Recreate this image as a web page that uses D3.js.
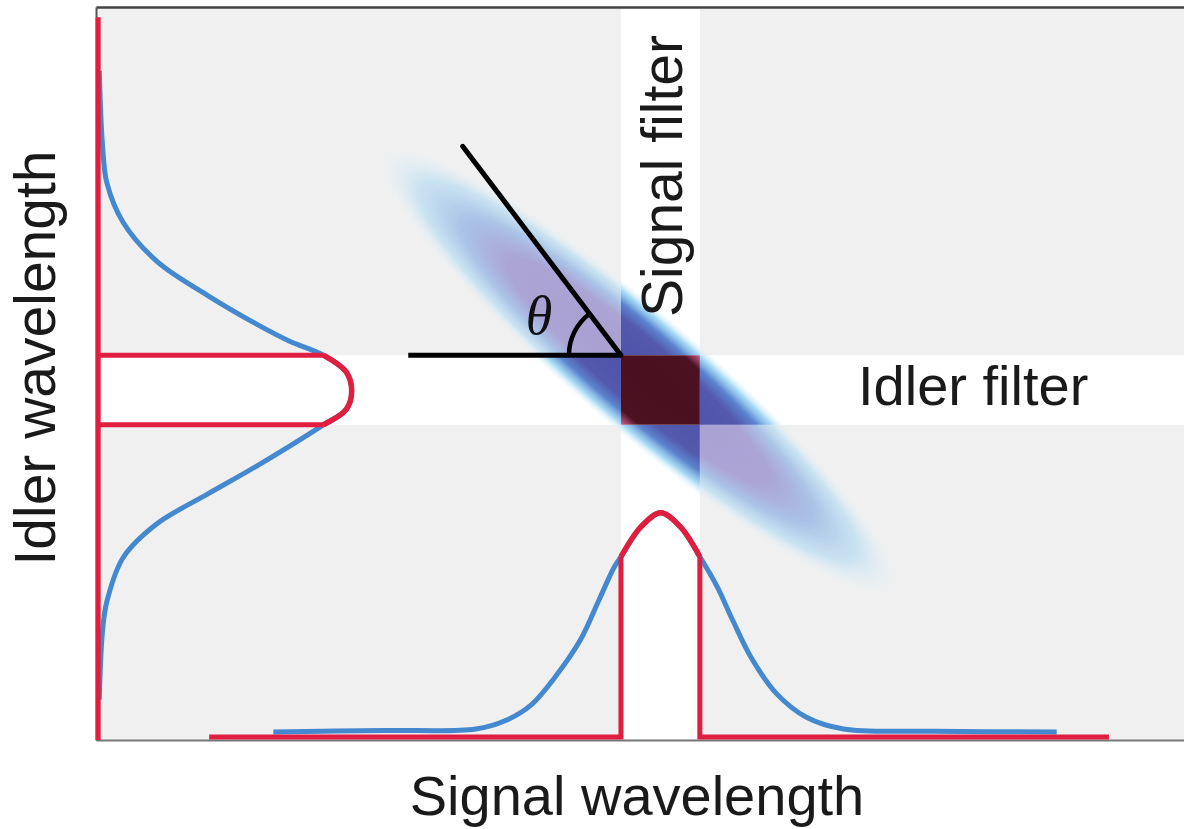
<!DOCTYPE html>
<html>
<head>
<meta charset="utf-8">
<script src="https://cdn.jsdelivr.net/npm/d3@7"></script>
<style>
    body { margin: 0; background: #fff; }
    svg { display: block; font-family: "Liberation Sans", Arial, sans-serif; }
</style>
</head>
<body>
<svg id="chart" width="1184" height="829"></svg>
<script>
// wavelength units 0..100 on both axes
const signalFilter = [48.25, 55.5];
const idlerFilter = [43.0, 52.5];

// signal marginal spectrum (bottom)
const signalWl = [16.3, 26.5, 34.9, 37.7, 40.0, 42.2, 44.5, 46.2, 47.6, 48.25, 50.1, 51.9, 53.7, 55.5, 57.1, 58.5, 60.2, 62.5, 65.3, 68.7, 77.0, 88.3];
const signalAmp = [1.1, 1.3, 1.5, 2.7, 4.8, 8.6, 13.6, 19.0, 23.5, 25.0, 29.1, 31.0, 29.1, 25.0, 20.9, 16.4, 11.3, 6.4, 3.1, 1.5, 1.2, 1.1];
const signalBase = [10.4, 93.1, 0.4];

// idler marginal spectrum (left)
const idlerWl = [91.3, 81.1, 76.0, 70.6, 65.3, 60.7, 56.7, 54.4, 52.5, 50.2, 47.6, 45.1, 43.0, 37.4, 33.5, 29.5, 24.9, 18.9, 14.9, 5.5];
const idlerAmp = [0.3, 0.6, 1.0, 2.5, 5.6, 10.2, 14.8, 17.8, 20.9, 23.0, 23.5, 23.0, 20.9, 14.8, 10.2, 5.6, 2.5, 1.0, 0.6, 0.3];
const idlerBase = [0.2, 0, 98.6];

// joint spectrum ellipse: two tips (signal, idler)
const jsaTips = [[26.3, 80.3], [73.4, 20.5]];

// angle marker
const thetaVertex = [signalFilter[0], idlerFilter[1]];
const thetaRayEnd = [33.7, 81.0];
const thetaBaseEnd = 28.7;

const W = 1184, H = 829;
const mL = 96, mR = 1184, mT = 7, mB = 740;
const red = '#e01e3f', blue = '#4488cf';

const svg = d3.select('#chart');
const x = d3.scaleLinear().domain([0, 100]).range([mL, mR]);
const y = d3.scaleLinear().domain([0, 100]).range([mB, mT]);

const defs = svg.append('defs');

// gradients for the ellipse
function addGradient(id, stops) {
    const g = defs.append('radialGradient').attr('id', id);
    stops.forEach(s => g.append('stop')
        .attr('offset', s[0]).attr('stop-color', s[1]).attr('stop-opacity', s[2]));
}
addGradient('gBase', [[0, '#aa9fd1', 1], [0.5, '#aba4d5', 1], [0.68, '#a6c0e6', 0.95], [0.85, '#b6dcf2', 0.65], [1, '#e6f4fa', 0]]);
addGradient('gBand', [[0, '#4e52a9', 1], [0.52, '#5459ad', 1], [0.7, '#5b84cf', 1], [0.86, '#8ccff2', 0.75], [1, '#d8f0fa', 0]]);
addGradient('gBoth', [[0, '#4a1020', 1], [0.68, '#4c1222', 1], [0.85, '#a8306a', 0.8], [1, '#f4b0d0', 0]]);

const sx0 = x(signalFilter[0]), sx1 = x(signalFilter[1]);
const iy0 = y(idlerFilter[1]), iy1 = y(idlerFilter[0]);

// masks: outside both filters, exactly one filter, both filters
const mOut = defs.append('mask').attr('id', 'mOut');
mOut.append('rect').attr('x', 0).attr('y', 0).attr('width', W).attr('height', H).attr('fill', '#fff');
mOut.append('rect').attr('x', sx0).attr('y', 0).attr('width', sx1 - sx0).attr('height', H).attr('fill', '#000');
mOut.append('rect').attr('x', 0).attr('y', iy0).attr('width', W).attr('height', iy1 - iy0).attr('fill', '#000');

const mOne = defs.append('mask').attr('id', 'mOne');
mOne.append('rect').attr('x', sx0).attr('y', 0).attr('width', sx1 - sx0).attr('height', H).attr('fill', '#fff');
mOne.append('rect').attr('x', 0).attr('y', iy0).attr('width', W).attr('height', iy1 - iy0).attr('fill', '#fff');
mOne.append('rect').attr('x', sx0).attr('y', iy0).attr('width', sx1 - sx0).attr('height', iy1 - iy0).attr('fill', '#000');

defs.append('clipPath').attr('id', 'cBoth')
    .append('rect').attr('x', sx0).attr('y', iy0).attr('width', sx1 - sx0).attr('height', iy1 - iy0);

// background + filter bands
svg.append('rect').attr('x', mL).attr('y', mT).attr('width', mR - mL).attr('height', mB - mT).attr('fill', '#f0f0f0');
svg.append('rect').attr('x', sx0).attr('y', mT).attr('width', sx1 - sx0).attr('height', mB - mT).attr('fill', '#fff');
svg.append('rect').attr('x', mL).attr('y', iy0).attr('width', mR - mL).attr('height', iy1 - iy0).attr('fill', '#fff');

// ellipse
const p1 = [x(jsaTips[0][0]), y(jsaTips[0][1])];
const p2 = [x(jsaTips[1][0]), y(jsaTips[1][1])];
const cx = (p1[0] + p2[0]) / 2, cy = (p1[1] + p2[1]) / 2;
const rx = Math.hypot(p2[0] - p1[0], p2[1] - p1[1]) / 2;
const ang = Math.atan2(p2[1] - p1[1], p2[0] - p1[0]) * 180 / Math.PI;
const ry = 60;

function drawEllipse(parent, fill) {
    parent.append('ellipse')
        .attr('cx', 0).attr('cy', 0).attr('rx', rx).attr('ry', ry)
        .attr('transform', `translate(${cx},${cy}) rotate(${ang})`)
        .attr('fill', fill);
}
drawEllipse(svg.append('g').attr('mask', 'url(#mOut)'), 'url(#gBase)');
drawEllipse(svg.append('g').attr('mask', 'url(#mOne)'), 'url(#gBand)');
drawEllipse(svg.append('g').attr('clip-path', 'url(#cBoth)'), 'url(#gBoth)');

// axes (bare lines)
svg.append('g').attr('transform', `translate(0,${mB})`)
    .call(d3.axisBottom(x).tickValues([]).tickSizeOuter(0))
    .select('.domain').attr('stroke', '#777').attr('stroke-width', 2);
svg.append('g').attr('transform', `translate(0,${mT})`)
    .call(d3.axisTop(x).tickValues([]).tickSizeOuter(0))
    .select('.domain').attr('stroke', '#444').attr('stroke-width', 2.5);
svg.append('g').attr('transform', `translate(${mL},0)`)
    .call(d3.axisLeft(y).tickValues([]).tickSizeOuter(0))
    .select('.domain').attr('stroke', '#555').attr('stroke-width', 2);

const smooth = d3.curveCatmullRom.alpha(0.5);

// signal marginal
const sig = signalWl.map((d, i) => [d, signalAmp[i]]);
const lineX = d3.line().x(d => x(d[0])).y(d => y(d[1])).curve(smooth);
svg.append('path').attr('d', lineX(sig)).attr('fill', 'none').attr('stroke', blue).attr('stroke-width', 5);

const sigIn = sig.filter(d => d[0] >= signalFilter[0] && d[0] <= signalFilter[1]);
svg.append('path').attr('d', lineX(sigIn)).attr('fill', 'none').attr('stroke', red).attr('stroke-width', 5.5);
const sigFrame = [
    [signalBase[0], signalBase[2]], [signalFilter[0], signalBase[2]], sigIn[0],
    null,
    sigIn[sigIn.length - 1], [signalFilter[1], signalBase[2]], [signalBase[1], signalBase[2]]
];
svg.append('path')
    .attr('d', d3.line().defined(d => d).x(d => x(d[0])).y(d => y(d[1]))(sigFrame))
    .attr('fill', 'none').attr('stroke', red).attr('stroke-width', 5);

// idler marginal
const idl = idlerWl.map((d, i) => [idlerAmp[i], d]);
const lineY = d3.line().x(d => x(d[0])).y(d => y(d[1])).curve(smooth);
svg.append('path').attr('d', lineY(idl)).attr('fill', 'none').attr('stroke', blue).attr('stroke-width', 5);

const idlIn = idl.filter(d => d[1] >= idlerFilter[0] && d[1] <= idlerFilter[1]);
svg.append('path').attr('d', lineY(idlIn)).attr('fill', 'none').attr('stroke', red).attr('stroke-width', 5.5);
const idlFrame = [
    [idlerBase[0], idlerBase[2]], [idlerBase[0], idlerBase[1]], null,
    [idlerBase[0], idlerFilter[1]], idlIn[0], null,
    [idlerBase[0], idlerFilter[0]], idlIn[idlIn.length - 1]
];
svg.append('path')
    .attr('d', d3.line().defined(d => d).x(d => x(d[0])).y(d => y(d[1]))(idlFrame))
    .attr('fill', 'none').attr('stroke', red).attr('stroke-width', 5);

// theta marker
const vx = x(thetaVertex[0]), vy = y(thetaVertex[1]);
svg.append('line').attr('x1', x(thetaBaseEnd)).attr('y1', vy).attr('x2', vx).attr('y2', vy)
    .attr('stroke', '#000').attr('stroke-width', 5);
svg.append('line').attr('x1', x(thetaRayEnd[0])).attr('y1', y(thetaRayEnd[1])).attr('x2', vx).attr('y2', vy)
    .attr('stroke', '#000').attr('stroke-width', 5).attr('stroke-linecap', 'round');
const rayAng = Math.atan2(y(thetaRayEnd[1]) - vy, x(thetaRayEnd[0]) - vx);
const arcR = 52;
svg.append('path')
    .attr('d', `M${vx - arcR},${vy} A${arcR},${arcR} 0 0 1 ${vx + arcR * Math.cos(rayAng)},${vy + arcR * Math.sin(rayAng)}`)
    .attr('fill', 'none').attr('stroke', '#000').attr('stroke-width', 4.5);
svg.append('text').attr('x', 539).attr('y', 334).attr('text-anchor', 'middle')
    .attr('font-family', '"Liberation Serif", "DejaVu Serif", serif').attr('font-style', 'italic')
    .attr('font-size', 54).attr('fill', '#111').text('θ');

// labels
svg.append('text').attr('x', 637).attr('y', 815).attr('text-anchor', 'middle')
    .attr('font-size', 56).attr('fill', '#1a1a1a').text('Signal wavelength');
svg.append('text').attr('transform', 'translate(55,358) rotate(-90)').attr('text-anchor', 'middle')
    .attr('font-size', 57).attr('fill', '#1a1a1a').text('Idler wavelength');
svg.append('text').attr('transform', `translate(682,176) rotate(-90)`).attr('text-anchor', 'middle')
    .attr('font-size', 57).attr('fill', '#1a1a1a').text('Signal filter');
svg.append('text').attr('x', 858).attr('y', 405)
    .attr('font-size', 56).attr('fill', '#1a1a1a').text('Idler filter');
</script>
</body>
</html>
